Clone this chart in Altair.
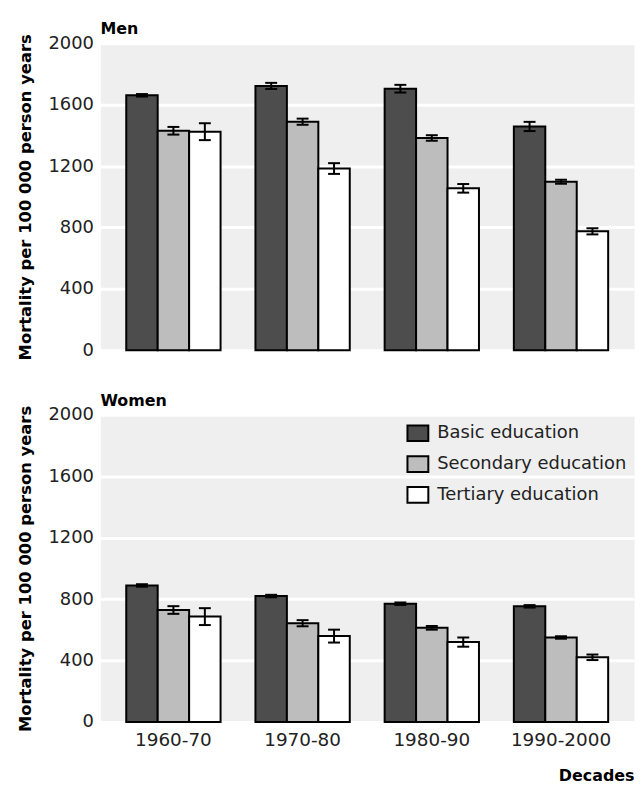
import altair as alt
import pandas as pd

decades = ["1960-70", "1970-80", "1980-90", "1990-2000"]
levels = ["Basic education", "Secondary education", "Tertiary education"]
colors = ["#4d4d4d", "#bdbdbd", "#ffffff"]

# Men: mortality per 100 000 person years, by decade (rows) and education (cols)
men_rate = [[1661, 1430, 1424], [1722, 1489, 1184], [1704, 1383, 1055], [1458, 1098, 775]]
men_err = [[8, 25, 55], [20, 20, 35], [25, 18, 28], [30, 13, 20]]
# Women
women_rate = [[889, 729, 686], [820, 643, 559], [770, 613, 520], [753, 550, 421]]
women_err = [[8, 25, 55], [8, 20, 42], [8, 12, 30], [8, 8, 18]]

y_ticks = [0, 400, 800, 1200, 1600, 2000]
y_title = "Mortality per 100 000 person years"

FONT = "DejaVu Sans"


def make_df(rates, errs):
    rows = []
    for i, d in enumerate(decades):
        for j, lv in enumerate(levels):
            r = rates[i][j]
            e = errs[i][j]
            rows.append({"decade": d, "level": lv, "rate": r, "low": r - e, "high": r + e})
    return pd.DataFrame(rows)


def panel(rates, errs, title, bottom):
    df = make_df(rates, errs)
    base = alt.Chart(df)
    if bottom:
        xaxis = alt.Axis(title="Decades", labelAngle=0, labelFontSize=18.5, labelFont=FONT,
                         labelColor="#222222", labelPadding=9, titleAnchor="end",
                         titleFont=FONT, titleFontSize=16, titleFontWeight="bold",
                         titlePadding=18, titleColor="black")
    else:
        xaxis = None
    x = alt.X("decade:N", sort=decades, axis=xaxis,
              scale=alt.Scale(paddingInner=0.27, paddingOuter=0.2))
    xo = alt.XOffset("level:N", sort=levels,
                     scale=alt.Scale(paddingInner=0, paddingOuter=0))
    yaxis = alt.Axis(values=y_ticks, format="d", title=y_title, labelFontSize=18,
                     labelFont=FONT, labelColor="#222222", labelPadding=7,
                     titleFont=FONT, titleFontSize=16.5, titleFontWeight="bold",
                     titlePadding=15, titleColor="black", grid=True,
                     gridColor="white", gridWidth=3)
    yscale = alt.Scale(domain=[0, 2000], nice=False)
    if bottom:
        legend = alt.Legend(title=None, orient="none", legendX=308, legendY=7,
                            symbolType="M-1,-0.75H1V0.75H-1Z", symbolSize=441,
                            symbolStrokeColor="black", symbolStrokeWidth=2,
                            symbolOpacity=1, labelFont=FONT, labelFontSize=18,
                            labelColor="#222222", labelOffset=8, labelLimit=400,
                            rowPadding=6, padding=0)
    else:
        legend = None
    bars = base.mark_bar(stroke="black", strokeWidth=2, opacity=1).encode(
        x=x, xOffset=xo,
        y=alt.Y("rate:Q", scale=yscale, axis=yaxis),
        color=alt.Color("level:N", sort=levels,
                        scale=alt.Scale(domain=levels, range=colors), legend=legend),
    )
    rules = base.mark_rule(color="black", strokeWidth=2).encode(
        x=x, xOffset=xo, y=alt.Y("low:Q", scale=yscale, axis=yaxis), y2="high:Q")
    cap_lo = base.mark_tick(color="black", thickness=2, size=12, opacity=1).encode(
        x=x, xOffset=xo, y=alt.Y("low:Q", scale=yscale, axis=yaxis))
    cap_hi = base.mark_tick(color="black", thickness=2, size=12, opacity=1).encode(
        x=x, xOffset=xo, y=alt.Y("high:Q", scale=yscale, axis=yaxis))
    return alt.layer(bars, rules, cap_lo, cap_hi).properties(
        width=537, height=309,
        title=alt.TitleParams(title, anchor="start", frame="group", font=FONT,
                              fontSize=16, fontWeight="bold", color="black", offset=-4),
    )


top = panel(men_rate, men_err, "Men", False)
bot = panel(women_rate, women_err, "Women", True)

chart = alt.vconcat(top, bot, spacing=31).resolve_scale(
    color="independent").resolve_legend(color="independent").properties(
    padding={"left": 8, "top": 10, "right": 0, "bottom": 0}
).configure_view(fill="#efefef", stroke="transparent").configure_axis(
    domain=False, ticks=False
)

chart.save("out.html", embed_options={"renderer": "svg", "actions": False})
